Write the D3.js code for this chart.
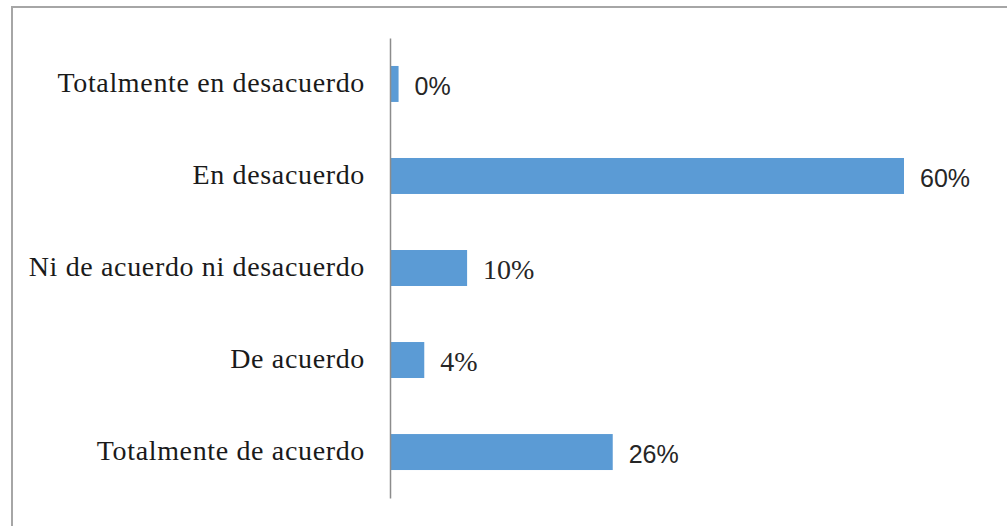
<!DOCTYPE html>
<html>
<head>
<meta charset="utf-8">
<script src="https://cdn.jsdelivr.net/npm/d3@7"></script>
<style>
  body { margin: 0; background: #fff; }
  svg { display: block; }
</style>
</head>
<body>
<div id="chart"></div>
<script>
// data (bar lengths in %, printed labels as shown)
const categories = [
  "Totalmente en desacuerdo",
  "En desacuerdo",
  "Ni de acuerdo ni desacuerdo",
  "De acuerdo",
  "Totalmente de acuerdo"
];
const values = [1, 60, 9, 4, 26];
const valueLabels = ["0%", "60%", "10%", "4%", "26%"];
const labelSerif = [false, false, true, true, false]; // mixed fonts in the original

const width = 1007, height = 526;

const svg = d3.select("#chart")
  .append("svg")
  .attr("width", width)
  .attr("height", height);

// outer frame (only top and left edges visible)
svg.append("rect")
  .attr("x", 12)
  .attr("y", 7)
  .attr("width", width + 20)
  .attr("height", height + 20)
  .attr("fill", "#fff")
  .attr("stroke", "#a6a6a6")
  .attr("stroke-width", 2);

const x = d3.scaleLinear()
  .domain([0, 60])
  .range([390, 904]);

const y = d3.scaleBand()
  .domain(categories)
  .range([38, 498])
  .paddingInner(0.609)
  .paddingOuter(0.304);

// bars
svg.append("g")
  .selectAll("rect")
  .data(values)
  .join("rect")
  .attr("x", x(0))
  .attr("y", (d, i) => y(categories[i]))
  .attr("width", (d) => x(d) - x(0))
  .attr("height", y.bandwidth())
  .attr("fill", "#5b9bd5");

// vertical axis line, no ticks
const yAxis = svg.append("g")
  .attr("transform", `translate(${x(0)},0)`)
  .call(d3.axisLeft(y).tickSize(0).tickPadding(25).tickSizeOuter(0));

yAxis.select(".domain")
  .attr("stroke", "#8c8c8c")
  .attr("stroke-width", 1.5);

yAxis.selectAll("text")
  .attr("fill", "#1a1a1a")
  .attr("dy", "0.27em")
  .attr("font-family", "Liberation Serif, Times New Roman, serif")
  .attr("font-size", 28)
  .attr("letter-spacing", "0.65px");

// value labels
svg.append("g")
  .attr("font-family", null)
  .selectAll("text")
  .data(values)
  .join("text")
  .attr("x", (d) => x(d) + 16)
  .attr("y", (d, i) => y(categories[i]) + y.bandwidth() / 2 + 11)
  .attr("fill", "#262626")
  .attr("font-family", (d, i) =>
    labelSerif[i] ? "Liberation Serif, serif" : "Liberation Sans, sans-serif")
  .attr("font-size", (d, i) => (labelSerif[i] ? 28 : 25))
  .text((d, i) => valueLabels[i]);
</script>
</body>
</html>
